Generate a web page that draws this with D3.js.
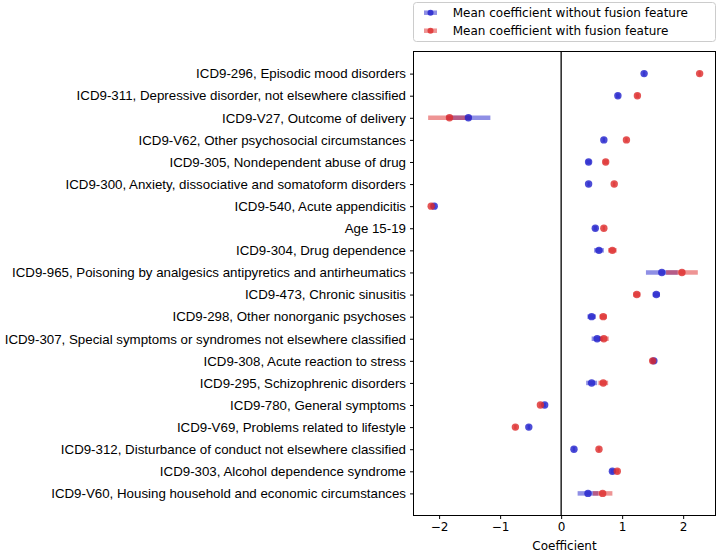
<!DOCTYPE html>
<html><head><meta charset="utf-8">
<script src="https://cdn.jsdelivr.net/npm/d3@7"></script>
<style>body{margin:0;background:#fff}svg{display:block}</style>
</head><body>
<svg id="chart" width="720" height="554"></svg>
<script>
const categories = [
 "ICD9-296, Episodic mood disorders",
 "ICD9-311, Depressive disorder, not elsewhere classified",
 "ICD9-V27, Outcome of delivery",
 "ICD9-V62, Other psychosocial circumstances",
 "ICD9-305, Nondependent abuse of drug",
 "ICD9-300, Anxiety, dissociative and somatoform disorders",
 "ICD9-540, Acute appendicitis",
 "Age 15-19",
 "ICD9-304, Drug dependence",
 "ICD9-965, Poisoning by analgesics antipyretics and antirheumatics",
 "ICD9-473, Chronic sinusitis",
 "ICD9-298, Other nonorganic psychoses",
 "ICD9-307, Special symptoms or syndromes not elsewhere classified",
 "ICD9-308, Acute reaction to stress",
 "ICD9-295, Schizophrenic disorders",
 "ICD9-780, General symptoms",
 "ICD9-V69, Problems related to lifestyle",
 "ICD9-312, Disturbance of conduct not elsewhere classified",
 "ICD9-303, Alcohol dependence syndrome",
 "ICD9-V60, Housing household and economic circumstances"
];
const meanWithout = [1.36, 0.93, -1.52, 0.70, 0.45, 0.45, -2.08, 0.56, 0.62, 1.65, 1.56, 0.50, 0.59, 1.52, 0.50, -0.27, -0.53, 0.21, 0.84, 0.44];
const errWithout  = [0.02, 0.03, 0.36, 0.02, 0.04, 0.02, 0.02, 0.03, 0.08, 0.26, 0.06, 0.07, 0.09, 0.03, 0.09, 0.02, 0.02, 0.02, 0.03, 0.17];
const meanWith    = [2.27, 1.25, -1.83, 1.07, 0.73, 0.87, -2.13, 0.70, 0.84, 1.98, 1.24, 0.69, 0.70, 1.50, 0.69, -0.34, -0.75, 0.62, 0.92, 0.68];
const errWith     = [0.02, 0.03, 0.35, 0.02, 0.04, 0.02, 0.02, 0.02, 0.07, 0.26, 0.06, 0.06, 0.08, 0.03, 0.08, 0.02, 0.02, 0.02, 0.03, 0.16];
const xTicks = [-2, -1, 0, 1, 2];
const legendLabels = ["Mean coefficient without fusion feature", "Mean coefficient with fusion feature"];
const xTitle = "Coefficient";

const blue = "#1f1fcc", red = "#dd2a2a";
const svg = d3.select("#chart");
const L = 413.5, R = 715.5, T = 51.5, B = 515.5;

const x = d3.scaleLinear().domain([-2.42, 2.53]).range([L, R]);
const y = d3.scaleLinear().domain([-1, categories.length]).range([T, B]);

// zero line
svg.append("line").attr("x1", x(0)).attr("x2", x(0)).attr("y1", T).attr("y2", B)
  .attr("stroke", "#000").attr("stroke-width", 1.3);

const series = [
  {mean: meanWithout, err: errWithout, color: blue},
  {mean: meanWith, err: errWith, color: red}
];
series.forEach(s => {
  const g = svg.append("g");
  g.selectAll("line").data(s.mean).join("line")
    .attr("x1", (d, i) => x(d - s.err[i])).attr("x2", (d, i) => x(d + s.err[i]))
    .attr("y1", (d, i) => y(i)).attr("y2", (d, i) => y(i))
    .attr("stroke", s.color).attr("stroke-width", 4.5).attr("stroke-opacity", 0.5);
});
series.forEach(s => {
  svg.append("g").selectAll("circle").data(s.mean).join("circle")
    .attr("cx", d => x(d)).attr("cy", (d, i) => y(i)).attr("r", 3.7)
    .attr("fill", s.color).attr("fill-opacity", 0.8);
});

// frame
svg.append("rect").attr("x", L).attr("y", T).attr("width", R - L).attr("height", B - T)
  .attr("fill", "none").attr("stroke", "#000").attr("stroke-width", 1);

// y axis
const yAxis = d3.axisLeft(y).tickValues(d3.range(categories.length))
  .tickFormat(i => categories[i]).tickSize(3.5).tickPadding(4);
const gy = svg.append("g").attr("transform", `translate(${L},0)`).call(yAxis);
gy.select(".domain").remove();
gy.selectAll("text").attr("font-family", "Liberation Sans, Arial, sans-serif").attr("font-size", 13.3).attr("fill", "#000");

// x axis
const xAxis = d3.axisBottom(x).tickValues(xTicks).tickFormat(d => d < 0 ? "\u2212" + Math.abs(d) : d).tickSize(3.5).tickPadding(3.5);
const gx = svg.append("g").attr("transform", `translate(0,${B})`).call(xAxis);
gx.select(".domain").remove();
gx.selectAll("text").attr("font-family", "DejaVu Sans, sans-serif").attr("font-size", 12).attr("fill", "#000");

svg.append("text").attr("x", (L + R) / 2).attr("y", 550).attr("text-anchor", "middle")
  .attr("font-family", "DejaVu Sans, sans-serif").attr("font-size", 12).text(xTitle);

// legend
const lg = svg.append("g");
lg.append("rect").attr("x", 413.5).attr("y", 2.5).attr("width", 302).attr("height", 39).attr("rx", 3)
  .attr("fill", "#fff").attr("stroke", "#ccc").attr("stroke-width", 1);
[blue, red].forEach((c, i) => {
  const yy = 12.7 + i * 18;
  lg.append("line").attr("x1", 424).attr("x2", 437).attr("y1", yy).attr("y2", yy)
    .attr("stroke", c).attr("stroke-width", 4.5).attr("stroke-opacity", 0.5);
  lg.append("circle").attr("cx", 430.5).attr("cy", yy).attr("r", 3).attr("fill", c).attr("fill-opacity", 0.8);
  lg.append("text").attr("x", 452.7).attr("y", yy).attr("dy", "0.35em")
    .attr("font-family", "DejaVu Sans, sans-serif").attr("font-size", 12).text(legendLabels[i]);
});
</script>
</body></html>
